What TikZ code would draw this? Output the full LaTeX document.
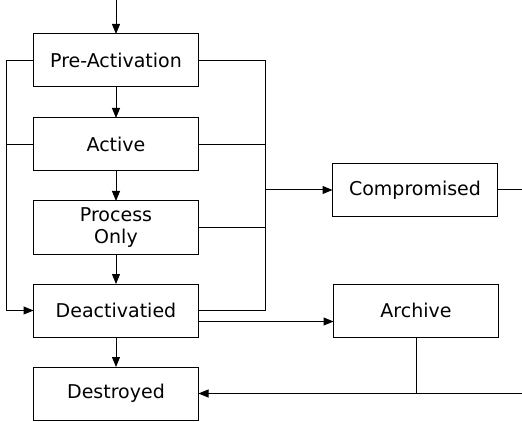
\documentclass[tikz,border=0pt]{standalone}
\usepackage{fontspec}
\setmainfont{DejaVu Sans}
\usepackage{tikz}
\usetikzlibrary{calc,arrows.meta,positioning}

\begin{document}
\begin{tikzpicture} [x=1pt, y=1pt,
       >={Triangle[length=10pt,width=8pt]}, black, line width=1pt,
       every node/.style={font=\fontsize{19}{22}\selectfont},
       statebox/.style = {rectangle, draw, minimum width=165pt, minimum height=53pt,
                          align=center, inner sep=0pt, outer sep=0pt}]
	\useasboundingbox (0,0) rectangle (522,-422);

	%% Reference points
	\coordinate (start) at (116,0);
	\coordinate (compout) at (522,-190);

	%% Key states
	\node [statebox] (pre) at (116,-60.5) {Pre-Activation};
	\node [statebox,below = 31pt of pre] (active) {Active};
	\node [statebox,below = 30pt of active] (proc) {Process\\Only};
	\node [statebox,below = 30pt of proc] (deact) {Deactivatied};
	\node [statebox,below = 30pt of deact] (destroyed) {Destroyed};

	%% Side states
	\node [statebox] (comp) at (415,-190) {Compromised};
	\node [statebox,right = 135pt of deact] (archive) {Archive};
	\coordinate (destin) at (destroyed.east -| compout);

	%% Main path
	\draw[->] (start) -- (pre.north);
	\draw[->] (pre) -- (active);
	\draw[->] (active) -- (proc);
	\draw[->] (proc) -- (deact);
	\draw[->] (deact) -- (destroyed);

	%% Left bus
	\draw[->] (pre.west) -- ++(-27,0) coordinate (ltop) |- (deact.west);
	\draw (active.west) -- (ltop |- active.west);

	%% Right bus
	\draw (pre.east) -- ++(67,0) coordinate (rtop) -- (rtop |- deact.east) -- (deact.east);
	\draw (active.east) -- (rtop |- active.east);
	\draw (proc.east) -- (rtop |- proc.east);
	\draw[->] (rtop |- comp.west) -- (comp.west);
	\draw (comp.east) -- (compout);

	%% Archive and destruction
	\draw[->] ($(deact.east)+(0,-11)$) -- (archive.west |- {$(deact.east)+(0,-11)$});
	\draw (archive.south) -- (archive.south |- destin);
	\draw[->] (destin) -- (destroyed.east);
\end{tikzpicture}
\end{document}
